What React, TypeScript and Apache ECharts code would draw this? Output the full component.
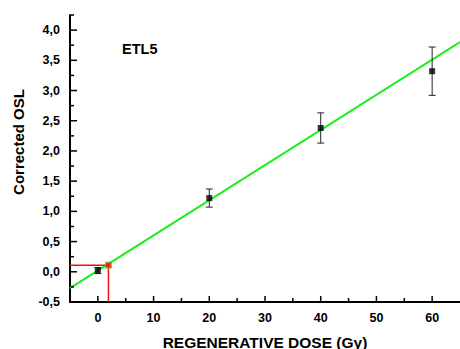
import React, { useEffect, useRef } from "react";
import * as echarts from "echarts";

// Data
const doses = [0, 20, 40, 60];
const correctedOSL = [0.02, 1.22, 2.38, 3.32];
const oslErrors = [0.05, 0.15, 0.25, 0.4];
const fitDoses = [-5, 65];
const fitOSL = [-0.27, 3.8];
const naturalOSL = 0.11;
const equivalentDose = 1.9;
const xMajorTicks = [0, 10, 20, 30, 40, 50, 60];
const xMinorTicks = [5, 15, 25, 35, 45, 55];
const yMajorTicks = [-0.5, 0, 0.5, 1, 1.5, 2, 2.5, 3, 3.5, 4];
const yMinorTicks = [-0.25, 0.25, 0.75, 1.25, 1.75, 2.25, 2.75, 3.25, 3.75, 4.25];

const X_MIN = -5;
const X_MAX = 65;
const Y_MIN = -0.5;
const Y_MAX = 4.25;

const FONT = "'Liberation Sans', Arial, sans-serif";

export default function App() {
  const ref = useRef<HTMLDivElement>(null);
  useEffect(() => {
    if (!ref.current) return;
    const chart = echarts.init(ref.current, null, { renderer: "svg" });
    const texts = [
      {
        type: "text",
        x: 18.5,
        y: 142,
        rotation: Math.PI / 2,
        style: {
          text: "Corrected OSL",
          fontFamily: FONT,
          fontWeight: "bold",
          fontSize: 15,
          fill: "#000",
          textAlign: "center",
          textVerticalAlign: "middle",
        },
      },
      {
        type: "text",
        x: 265,
        y: 342,
        style: {
          text: "REGENERATIVE DOSE (Gy)",
          fontFamily: FONT,
          fontWeight: "bold",
          fontSize: 15.5,
          fill: "#000",
          textAlign: "center",
          textVerticalAlign: "middle",
        },
      },
      {
        type: "text",
        x: 122,
        y: 48.5,
        style: {
          text: "ETL5",
          fontFamily: FONT,
          fontWeight: "bold",
          fontSize: 14.5,
          fill: "#000",
          textAlign: "left",
          textVerticalAlign: "middle",
        },
      },
    ];
    chart.setOption({
      animation: false,
      grid: { left: 70, right: 0, top: 15, bottom: 47, outerBoundsMode: "none", containLabel: false },
      xAxis: {
        type: "value",
        min: X_MIN,
        max: X_MAX,
        interval: 5,
        axisLine: { show: true, onZero: false, lineStyle: { color: "#000", width: 2 } },
        axisTick: { show: false },
        axisLabel: {
          color: "#000",
          fontFamily: FONT,
          fontWeight: "bold",
          fontSize: 12.5,
          margin: 9,
          formatter: (v: number) => (xMajorTicks.includes(v) ? String(v) : ""),
        },
        splitLine: { show: false },
      },
      yAxis: {
        type: "value",
        min: Y_MIN,
        max: Y_MAX,
        interval: 0.25,
        axisLine: { show: true, onZero: false, lineStyle: { color: "#000", width: 2 } },
        axisTick: { show: false },
        axisLabel: {
          color: "#000",
          fontFamily: FONT,
          fontWeight: "bold",
          fontSize: 12.5,
          margin: 10,
          formatter: (v: number) =>
            yMajorTicks.some((t) => Math.abs(t - v) < 1e-9) ? v.toFixed(1).replace(".", ",") : "",
        },
        splitLine: { show: false },
      },
      graphic: texts,
      series: [
        {
          type: "line",
          data: fitDoses.map((d, i) => [d, fitOSL[i]]),
          showSymbol: false,
          lineStyle: { color: "#1aee1a", width: 2 },
          silent: true,
          z: 2,
        },
        {
          type: "line",
          data: [
            [X_MIN, naturalOSL],
            [equivalentDose, naturalOSL],
            [equivalentDose, Y_MIN],
          ],
          showSymbol: false,
          lineStyle: { color: "#ee1111", width: 1.5 },
          silent: true,
          z: 3,
        },
        {
          type: "scatter",
          data: [[equivalentDose, naturalOSL]],
          symbol: "rect",
          symbolSize: 6,
          itemStyle: { color: "#ee1111", borderColor: "#55dd33", borderWidth: 1 },
          z: 4,
        },
        {
          type: "custom",
          data: doses.map((d, i) => [d, correctedOSL[i], oslErrors[i]]),
          renderItem: (params: any, api: any) => {
            const x = api.value(0);
            const y = api.value(1);
            const e = api.value(2);
            const top = api.coord([x, y + e]);
            const bot = api.coord([x, y - e]);
            const hw = 3.5;
            const style = { stroke: "#222", lineWidth: 1 };
            return {
              type: "group",
              children: [
                { type: "line", shape: { x1: top[0], y1: top[1], x2: bot[0], y2: bot[1] }, style },
                { type: "line", shape: { x1: top[0] - hw, y1: top[1], x2: top[0] + hw, y2: top[1] }, style },
                { type: "line", shape: { x1: bot[0] - hw, y1: bot[1], x2: bot[0] + hw, y2: bot[1] }, style },
              ],
            };
          },
          z: 5,
        },
        {
          type: "scatter",
          data: doses.map((d, i) => [d, correctedOSL[i]]),
          symbol: "rect",
          symbolSize: 6,
          itemStyle: { color: "#000" },
          z: 6,
        },
      ],
    });

    // Axis ticks placed through the chart's own scales
    const tickLines: any[] = [];
    const addX = (v: number, len: number) => {
      const p = chart.convertToPixel({ gridIndex: 0 }, [v, Y_MIN]) as number[];
      tickLines.push({
        type: "line",
        z: 10,
        shape: { x1: p[0], y1: p[1] - 1, x2: p[0], y2: p[1] - 1 - len },
        style: { stroke: "#000", lineWidth: 1.5 },
      });
    };
    const addY = (v: number, len: number) => {
      const p = chart.convertToPixel({ gridIndex: 0 }, [X_MIN, v]) as number[];
      tickLines.push({
        type: "line",
        z: 10,
        shape: { x1: p[0] + 1, y1: p[1], x2: p[0] + 1 + len, y2: p[1] },
        style: { stroke: "#000", lineWidth: 1.5 },
      });
    };
    xMajorTicks.forEach((v) => addX(v, 5));
    xMinorTicks.forEach((v) => addX(v, 3));
    yMajorTicks.forEach((v) => addY(v, 6));
    yMinorTicks.forEach((v) => addY(v, 3));
    chart.setOption({ graphic: [...texts, ...tickLines] });

    return () => chart.dispose();
  }, []);
  return (
    <div
      ref={ref}
      style={{ position: "fixed", left: 0, top: 0, width: 460, height: 349, background: "#fff" }}
    />
  );
}
